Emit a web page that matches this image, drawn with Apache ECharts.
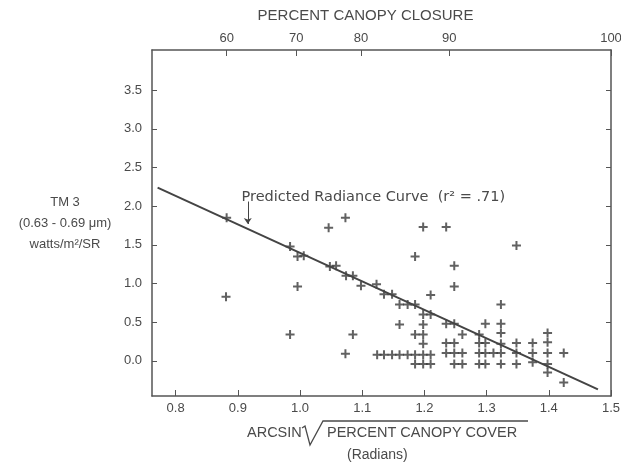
<!DOCTYPE html>
<html>
<head>
<meta charset="utf-8">
<title>TM 3 radiance vs canopy cover</title>
<script src="https://cdn.jsdelivr.net/npm/echarts@6/dist/echarts.min.js"></script>
<style>
    html, body { margin: 0; padding: 0; background: #fff; }
    #main { width: 621px; height: 465px; }
</style>
</head>
<body>
<div id="main"></div>
<script>
// scatter points (arcsin sqrt cover, radiance)
var coverX = [
    0.882, 0.881, 0.984, 0.984, 0.996, 1.006, 0.996, 1.046, 1.073, 1.048, 1.058, 1.074, 1.085, 1.098, 1.085, 1.073, 1.123,
    1.124,
    1.135, 1.135,
    1.148, 1.148,
    1.160, 1.160, 1.160,
    1.173, 1.173,
    1.185, 1.185, 1.185, 1.185, 1.185,
    1.198, 1.198, 1.198, 1.198, 1.198, 1.198, 1.198,
    1.210, 1.210, 1.210, 1.210,
    1.235, 1.235, 1.235, 1.235,
    1.248, 1.248, 1.248, 1.248, 1.248, 1.248,
    1.261, 1.261, 1.261,
    1.288, 1.288, 1.288, 1.288,
    1.298, 1.298, 1.298, 1.298,
    1.311,
    1.323, 1.323, 1.323, 1.323, 1.323, 1.323,
    1.348, 1.348, 1.348, 1.348,
    1.374, 1.374, 1.374,
    1.398, 1.398, 1.398, 1.398, 1.398,
    1.424, 1.424
]
var radianceY = [
    1.85, 0.83, 1.48, 0.34, 1.35, 1.36, 0.96, 1.72, 1.85, 1.22, 1.23, 1.10, 1.10, 0.97, 0.34, 0.09, 0.99,
    0.08,
    0.86, 0.08,
    0.86, 0.08,
    0.73, 0.47, 0.08,
    0.73, 0.08,
    1.35, 0.73, 0.34, 0.08, -0.04,
    1.73, 0.60, 0.47, 0.34, 0.22, 0.08, -0.04,
    0.85, 0.60, 0.08, -0.04,
    1.73, 0.48, 0.23, 0.10,
    1.23, 0.96, 0.48, 0.23, 0.10, -0.04,
    0.34, 0.10, -0.04,
    0.34, 0.23, 0.10, -0.04,
    0.48, 0.23, 0.10, -0.04,
    0.10,
    0.73, 0.48, 0.36, 0.22, 0.10, -0.04,
    1.49, 0.23, 0.10, -0.04,
    0.23, 0.10, -0.02,
    0.36, 0.24, 0.10, -0.04, -0.15,
    0.10, -0.28
]
// predicted radiance curve end points
var curveX = [0.771, 1.479]
var curveY = [2.24, -0.37]

var bottomTicks = [0.8, 0.9, 1.0, 1.1, 1.2, 1.3, 1.4, 1.5]
var leftTicks = [0, 0.5, 1.0, 1.5, 2.0, 2.5, 3.0, 3.5]
var topTickPos = [0.882, 0.994, 1.098, 1.240, 1.5]
var topTickLabels = ['60', '70', '80', '90', '100']

var txt = '#4a4a4a'
var ink = '#3a3a3a'
var font = 'Liberation Sans'

var chart = echarts.init(document.getElementById('main'))

var points = []
for (var i = 0; i < coverX.length; i++) {
    points.push([coverX[i], radianceY[i]])
}
var curve = []
for (var j = 0; j < curveX.length; j++) {
    curve.push([curveX[j], curveY[j]])
}

var plus = 'path://M3.5,0h2v3.5h3.5v2h-3.5v3.5h-2v-3.5h-3.5v-2h3.5z'
var frame = { onZero: false, lineStyle: { color: '#555', width: 1.5 } }

var option = {
    backgroundColor: '#fff',
    animation: false,
    textStyle: { fontFamily: font, color: txt },
    grid: { left: 152, right: 10, top: 50, bottom: 69, outerBoundsMode: 'none' },
    xAxis: [{
        type: 'value',
        position: 'bottom',
        min: 0.762,
        max: 1.5,
        splitLine: { show: false },
        axisLine: frame,
        axisTick: { inside: true, length: 6, customValues: bottomTicks, lineStyle: { color: '#555' } },
        axisLabel: {
            customValues: bottomTicks,
            margin: 6,
            fontSize: 13,
            color: txt,
            fontFamily: font,
            formatter: function (v) { return v.toFixed(1) }
        }
    }, {
        type: 'value',
        position: 'top',
        min: 0.762,
        max: 1.5,
        name: 'PERCENT CANOPY CLOSURE',
        nameLocation: 'middle',
        nameGap: 27,
        nameTextStyle: { fontSize: 15, color: txt, fontFamily: font, padding: [0, 32, 0, 0] },
        splitLine: { show: false },
        axisLine: frame,
        axisTick: { inside: true, length: 6, customValues: topTickPos, lineStyle: { color: '#555' } },
        axisLabel: {
            customValues: topTickPos,
            margin: 5,
            fontSize: 13,
            color: txt,
            fontFamily: font,
            formatter: function (v) {
                var k = topTickPos.indexOf(v)
                return k >= 0 ? topTickLabels[k] : ''
            }
        }
    }],
    yAxis: [{
        type: 'value',
        position: 'left',
        min: -0.455,
        max: 4.02,
        name: 'TM 3\n(0.63 - 0.69 \u03bcm)\nwatts/m\u00b2/SR',
        nameLocation: 'middle',
        nameRotate: 0,
        nameGap: 87,
        nameTextStyle: { fontSize: 13, lineHeight: 21, align: 'center', verticalAlign: 'middle', color: txt, fontFamily: font },
        splitLine: { show: false },
        axisLine: frame,
        axisTick: { inside: true, length: 5, customValues: leftTicks, lineStyle: { color: '#555' } },
        axisLabel: {
            customValues: leftTicks,
            margin: 10,
            fontSize: 13,
            color: txt,
            fontFamily: font,
            formatter: function (v) { return v.toFixed(1) }
        }
    }, {
        type: 'value',
        position: 'right',
        min: -0.455,
        max: 4.02,
        splitLine: { show: false },
        axisLine: { show: true, onZero: false, lineStyle: { color: '#555', width: 1.5 } },
        axisTick: { show: true, inside: true, length: 5, customValues: leftTicks, lineStyle: { color: '#555' } },
        axisLabel: { show: false }
    }],
    graphic: [
        { type: 'text', left: 247, top: 425, style: { text: 'ARCSIN', font: '14.5px "Liberation Sans"', fill: txt } },
        { type: 'polyline', shape: { points: [[302, 428], [305, 426], [310, 445], [323, 421], [528, 421]] }, style: { stroke: txt, lineWidth: 1.3, fill: null } },
        { type: 'text', left: 327, top: 425, style: { text: 'PERCENT CANOPY COVER', font: '14.5px "Liberation Sans"', fill: txt } },
        { type: 'text', left: 347, top: 448, style: { text: '(Radians)', font: '14px "Liberation Sans"', fill: txt } }
    ],
    series: [{
        type: 'line',
        data: curve,
        symbol: 'none',
        lineStyle: { color: '#444', width: 2 },
        silent: true,
        markLine: {
            silent: true,
            symbol: ['none', 'arrow'],
            symbolSize: 6,
            label: { show: false },
            lineStyle: { color: '#444', width: 1, type: 'solid' },
            data: [[{ coord: [0.916, 2.06] }, { coord: [0.916, 1.77] }]]
        },
        markPoint: {
            symbol: 'circle',
            symbolSize: 0,
            label: {
                show: true,
                position: 'right',
                distance: 0,
                fontSize: 14.5,
                color: txt,
                fontFamily: 'DejaVu Sans',
                formatter: 'Predicted Radiance Curve  (r\u00b2 = .71)'
            },
            data: [{ coord: [0.906, 2.12] }]
        }
    }, {
        type: 'scatter',
        data: points,
        symbol: plus,
        symbolSize: 9,
        itemStyle: { color: ink }
    }]
}
chart.setOption(option)
</script>
</body>
</html>
